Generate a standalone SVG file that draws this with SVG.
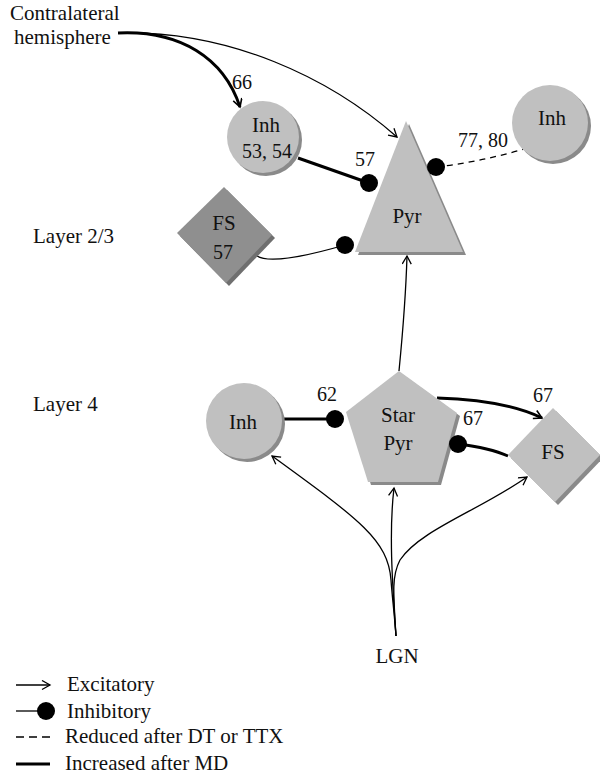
<svg xmlns="http://www.w3.org/2000/svg" width="600" height="775" viewBox="0 0 600 775">
<style>
text{font-family:"Liberation Serif","Times New Roman",serif;font-size:21px;fill:#111}
.n{font-size:20px}
.c{text-anchor:middle}
.node{fill:#c0c0c0}
.shadow{fill:#8a8a8a}
.thin{fill:none;stroke:#000;stroke-width:1.3}
.thick{fill:none;stroke:#000;stroke-width:3}
.dash{fill:none;stroke:#000;stroke-width:1.3;stroke-dasharray:6,5}
.dot{fill:#000}
</style>
<defs>
<marker id="arr" markerWidth="12" markerHeight="12" refX="9" refY="5" orient="auto" markerUnits="userSpaceOnUse">
<path d="M1,0.5 L9,5 L1,9.5" fill="none" stroke="#000" stroke-width="1.3"/>
</marker>
<marker id="arrT" markerWidth="12" markerHeight="12" refX="9" refY="5" orient="auto" markerUnits="userSpaceOnUse">
<path d="M1,0.5 L9,5 L1,9.5" fill="none" stroke="#000" stroke-width="1.6"/>
</marker>
</defs>

<g id="labels">
<text x="10" y="20" font-size="20.5">Contralateral</text>
<text x="14" y="44" font-size="20.5">hemisphere</text>
<text x="33" y="243">Layer 2/3</text>
<text x="33" y="411">Layer 4</text>
<text class="c" x="397" y="663">LGN</text>
<text class="n" x="232" y="89">66</text>
<text class="n" x="355" y="166">57</text>
<text class="n" x="458" y="147">77, 80</text>
<text class="n" x="317" y="401">62</text>
<text class="n" x="533" y="402">67</text>
<text class="n" x="463" y="425">67</text>
</g>

<g id="connectors">
<path class="thick" d="M118,33 C180,30 224,58 240,107" marker-end="url(#arrT)"/>
<path class="thin" d="M118,33 C230,30 330,78 397,137" marker-end="url(#arr)"/>
<path class="thick" d="M298,158 L369,183"/>
<path class="dash" d="M436,167 Q480,162 524,149"/>
<path class="thin" d="M257,256 C268,263 300,258 345,245"/>
<path class="thin" d="M399,371 C403,330 406,290 407,256" marker-end="url(#arr)"/>
<path class="thick" d="M283,419 L335,419"/>
<path class="thick" d="M437,398 Q505,400 542,418" marker-end="url(#arrT)"/>
<path class="thick" d="M458,444 Q490,448 508,456"/>
<path class="thin" d="M396,636 C394,610 392,595 391,580 C388,540 360,520 272,456" marker-end="url(#arr)"/>
<path class="thin" d="M396,636 C392,580 389,530 394,488" marker-end="url(#arr)"/>
<path class="thin" d="M396,636 C393,590 392,575 400,560 C420,530 480,510 527,477" marker-end="url(#arr)"/>
</g>

<g id="inh-top">
<circle class="shadow" cx="266" cy="140" r="36"/>
<circle class="node" cx="263" cy="137" r="36"/>
<text class="c" x="266" y="132">Inh</text>
<text class="c n" x="267" y="158">53, 54</text>
</g>

<g id="inh-right">
<circle class="shadow" cx="553" cy="126" r="38"/>
<circle class="node" cx="550" cy="123" r="38"/>
<text class="c" x="552" y="125">Inh</text>
</g>

<g id="pyr">
<polygon class="shadow" points="409,124 466,255 358,255"/>
<polygon class="node" points="406,121 463,252 355,252"/>
<text class="c" x="407" y="223">Pyr</text>
</g>

<g id="fs-top">
<polygon fill="#6f6f6f" points="227,190 275,238 229,286 180,236"/>
<polygon fill="#8f8f8f" points="224,187 272,235 226,283 177,233"/>
<text class="c" x="224" y="230">FS</text>
<text class="c n" x="223" y="259">57</text>
</g>

<g id="inh-l4">
<circle class="shadow" cx="247" cy="424" r="38"/>
<circle class="node" cx="244" cy="421" r="38"/>
<text class="c" x="243" y="429">Inh</text>
</g>

<g id="star-pyr">
<polygon class="shadow" points="402,374 460,416 441,485 371,485 349,415"/>
<polygon class="node" points="399,371 457,413 438,482 368,482 346,412"/>
<text class="c" x="398" y="422">Star</text>
<text class="c" x="398" y="450">Pyr</text>
</g>

<g id="fs-l4">
<polygon class="shadow" points="556,411 603,458 558,505 511,458"/>
<polygon class="node" points="553,408 600,455 555,502 508,455"/>
<text class="c" x="553" y="459">FS</text>
</g>

<g id="dots">
<circle class="dot" cx="369" cy="183" r="9"/>
<circle class="dot" cx="436" cy="167" r="9"/>
<circle class="dot" cx="345" cy="245" r="9"/>
<circle class="dot" cx="335" cy="419" r="9"/>
<circle class="dot" cx="458" cy="444" r="9"/>
</g>

<g id="legend">
<path class="thin" d="M16,685 L50,685" marker-end="url(#arr)"/>
<text x="67" y="691">Excitatory</text>
<path class="thin" d="M16,711 L40,711"/>
<circle class="dot" cx="46" cy="711" r="9"/>
<text x="67" y="718">Inhibitory</text>
<path class="thin" d="M16,737 L50,737" stroke-dasharray="8,5"/>
<text x="65" y="743">Reduced after DT or TTX</text>
<path class="thick" d="M16,764 L50,764"/>
<text x="65" y="770">Increased after MD</text>
</g>
</svg>
